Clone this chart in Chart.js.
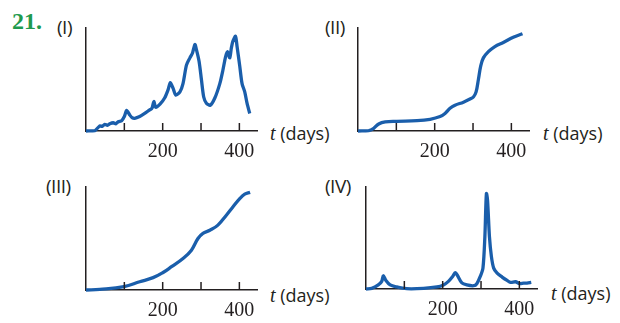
<!DOCTYPE html>
<html>
<head>
<meta charset="utf-8">
<script src="https://cdn.jsdelivr.net/npm/chart.js@4.4.1/dist/chart.umd.min.js"></script>
<style>
  body { margin: 0; background: #fff; width: 620px; height: 323px; overflow: hidden; position: relative; }
  canvas { position: absolute; }
  .lbl { position: absolute; font-family: "Open Sans", "Noto Sans", sans-serif; font-size: 19px; color: #231f20; line-height: 1; letter-spacing: -0.5px; }
  .tx { position: absolute; font-family: "Open Sans", "Noto Sans", sans-serif; font-size: 18px; color: #231f20; line-height: 1; white-space: nowrap; }
  .tx i { font-family: "Liberation Serif", serif; font-size: 20px; }
  #num { position: absolute; left: 12px; top: 8px; font-family: "Liberation Serif", serif; font-weight: bold; font-size: 24px; color: #1f9a4e; }
</style>
</head>
<body>
<div id="num">21.</div>
<div class="lbl" style="left:57px;top:18px">(I)</div>
<div class="lbl" style="left:325px;top:18px">(II)</div>
<div class="lbl" style="left:46px;top:177px">(III)</div>
<div class="lbl" style="left:325px;top:177px">(IV)</div>
<div class="tx" style="left:270px;top:123px"><i>t</i> (days)</div>
<div class="tx" style="left:543px;top:123px"><i>t</i> (days)</div>
<div class="tx" style="left:270px;top:285px"><i>t</i> (days)</div>
<div class="tx" style="left:551px;top:283px"><i>t</i> (days)</div>

<canvas id="c1" width="184" height="140" style="left:80px;top:24px"></canvas>
<canvas id="c2" width="184" height="140" style="left:352px;top:24px"></canvas>
<canvas id="c3" width="184" height="140" style="left:80px;top:183px"></canvas>
<canvas id="c4" width="184" height="139" style="left:360px;top:183px"></canvas>

<script>
// (I) daily values
var daysI = [0, 23, 36, 42, 49, 56, 62, 71, 78, 84, 93, 100, 106, 114, 120, 127, 140, 153, 166, 172, 177, 182, 193, 205, 214, 220, 227, 234, 245, 253, 262, 271, 278, 284, 288, 295, 301, 307, 314, 324, 336, 349, 357, 364, 369, 375, 379, 383, 390, 394, 401, 407, 414, 420, 427];
var valsI = [0, 0.3, 5, 4.5, 6.5, 5.5, 7, 8, 7, 9, 10, 14, 20, 15.6, 13, 12.3, 14, 17, 20.5, 22, 28.6, 23, 26, 32, 40, 47, 41.6, 35, 38, 46, 64, 71, 76, 84, 79, 67.5, 50, 33, 27, 25, 32, 46, 59, 72, 77, 71, 80.5, 87, 92, 82, 63, 46, 38, 27, 17];

// (II) cumulative
var daysII = [0, 28, 41, 54, 71, 101, 154, 188, 214, 227, 240, 253, 275, 292, 301, 308, 314, 320, 327, 340, 357, 379, 405, 429];
var valsII = [0, 0.3, 2.6, 6.8, 8.8, 9.4, 10, 11.4, 14, 17, 22, 25, 28, 31, 33, 38, 50, 63, 71, 77, 82, 86, 91, 94.5];

// (III)
var daysIII = [0, 36, 99, 140, 175, 201, 223, 253, 275, 292, 305, 323, 344, 366, 383, 401, 414, 428];
var valsIII = [0, 0.6, 3.2, 8, 12, 17, 22.6, 30.6, 38.7, 50, 55, 58, 63, 72.6, 80.6, 88.7, 93, 94.8];

// (IV)
var daysIV = [0, 15, 32, 41, 45, 52, 63, 80, 106, 150, 185, 202, 215, 226, 233, 239, 250, 263, 281, 289, 298, 305, 310, 314, 317, 322, 327, 333, 342, 355, 368, 377, 390, 401, 411, 420, 431];
var valsIV = [0, 0.6, 4, 7.5, 13, 8.4, 4, 2, 0.3, 0.6, 2, 4, 7.5, 12.3, 16, 13, 6, 4, 3.2, 5.2, 12.3, 20.5, 51, 93.5, 87, 51, 32, 20.5, 15.6, 11.7, 8.4, 6.5, 7.1, 5.2, 5.8, 5.8, 6.5];

var tickDays = [100, 200, 300, 400];
var shownTicks = [200, 400];

var ink = '#231f20';
var blue = '#1a5eab';

// short tick marks pointing up into the plot
var innerTicks = {
    id: 'innerTicks',
    afterDatasetsDraw: function (chart) {
        var x = chart.scales.x, ctx = chart.ctx;
        ctx.save();
        ctx.strokeStyle = ink;
        ctx.lineWidth = 1.5;
        tickDays.forEach(function (d) {
            var px = x.getPixelForValue(d);
            ctx.beginPath();
            ctx.moveTo(px, x.top);
            ctx.lineTo(px, x.top - 8);
            ctx.stroke();
        });
        ctx.restore();
    }
};

function makeChart(id, days, vals, tension) {
    var pts = days.map(function (d, i) { return { x: d, y: vals[i] }; });
    return new Chart(document.getElementById(id), {
        type: 'line',
        data: { datasets: [{ data: pts, borderColor: blue, borderWidth: 3.3, pointRadius: 0, tension: tension, fill: false, clip: false }] },
        options: {
            responsive: false,
            animation: false,
            layout: { padding: { left: 6, right: 6, top: 4, bottom: 0 } },
            plugins: { legend: { display: false }, tooltip: { enabled: false } },
            scales: {
                x: {
                    type: 'linear', min: 0, max: 447,
                    afterBuildTicks: function (s) { s.ticks = tickDays.map(function (v) { return { value: v }; }); },
                    afterFit: function (s) { s.height = 33; },
                    grid: { display: false, drawTicks: false },
                    border: { display: true, color: ink, width: 1.5 },
                    ticks: {
                        padding: 9, color: ink, maxRotation: 0, autoSkip: false,
                        font: { family: '"Liberation Serif", serif', size: 20 },
                        callback: function (v) { return shownTicks.indexOf(v) >= 0 ? String(v) : ''; }
                    }
                },
                y: {
                    min: 0, max: 100,
                    afterFit: function (s) { s.width = 0; },
                    grid: { display: false, drawTicks: false },
                    border: { display: true, color: ink, width: 1.5 },
                    ticks: { display: false }
                }
            }
        },
        plugins: [innerTicks]
    });
}

makeChart('c1', daysI, valsI, 0.25);
makeChart('c2', daysII, valsII, 0.4);
makeChart('c3', daysIII, valsIII, 0.4);
makeChart('c4', daysIV, valsIV, 0.3);
</script>
</body>
</html>
